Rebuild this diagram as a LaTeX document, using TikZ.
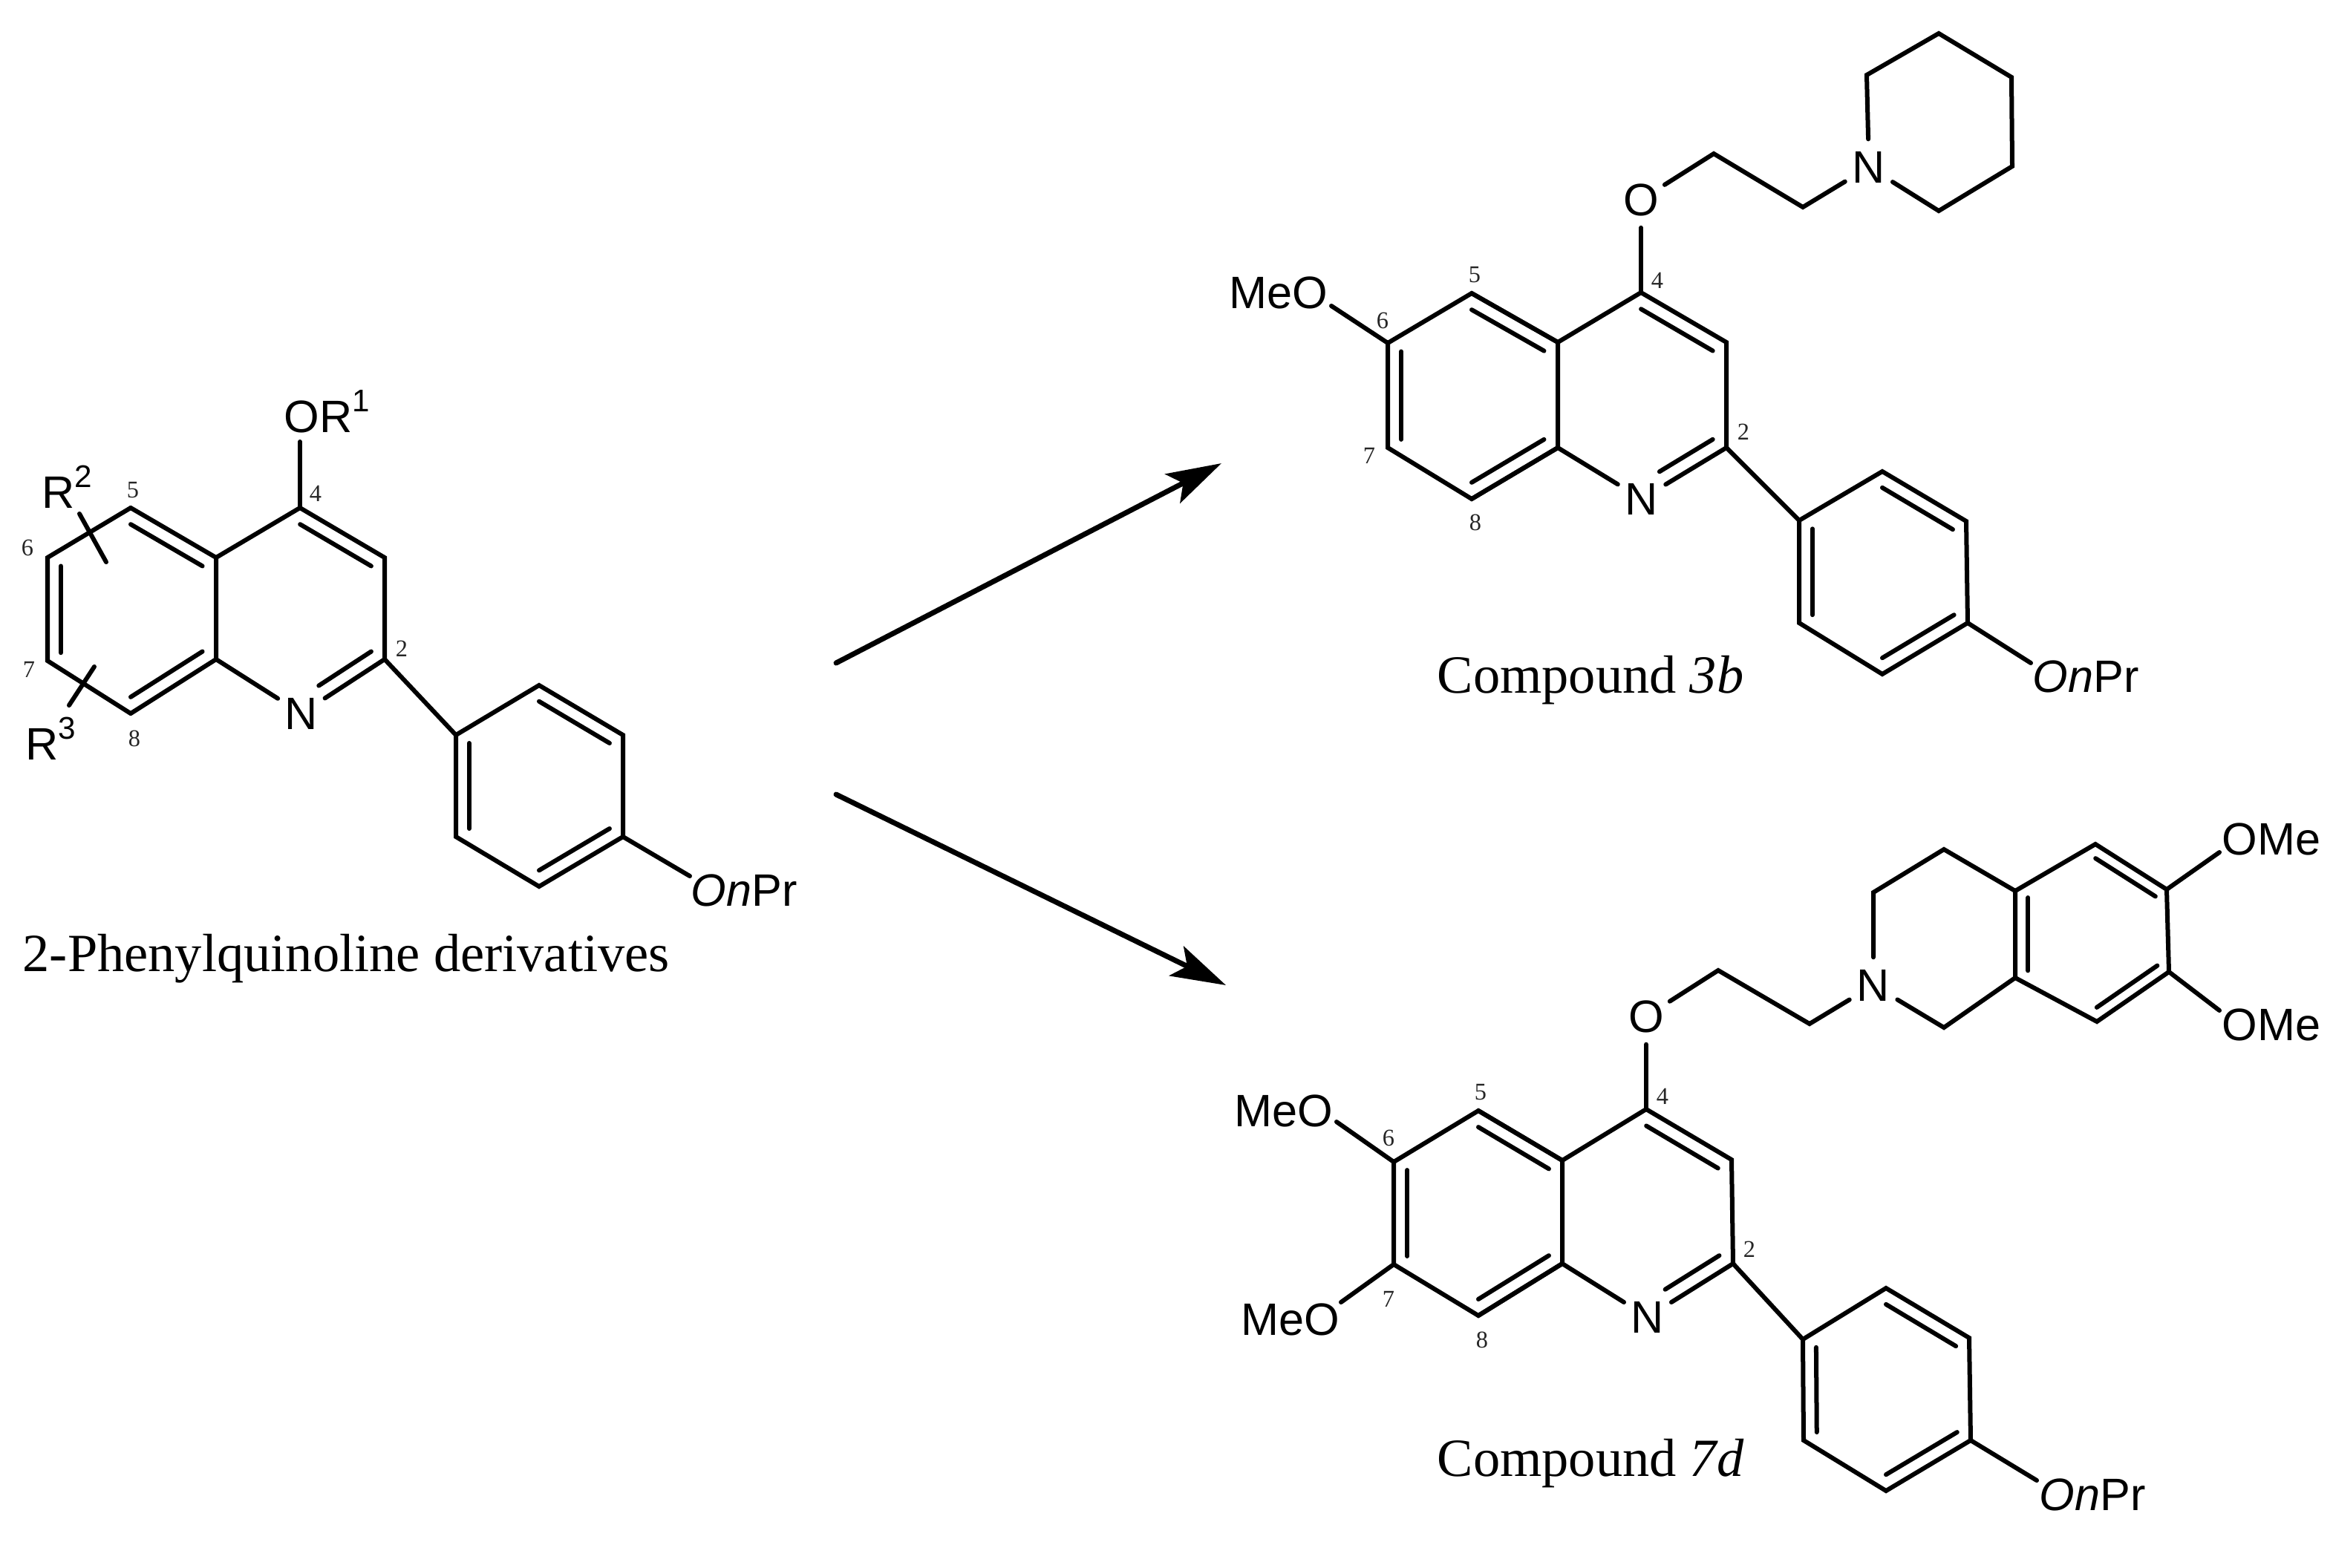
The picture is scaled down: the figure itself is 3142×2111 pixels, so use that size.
\documentclass[tikz,border=0pt]{standalone}
\usepackage{fontspec}
\setmainfont{Liberation Serif}
\newfontfamily\arialf{Liberation Sans}
\usetikzlibrary{calc,arrows.meta}
\tikzset{
  bond/.style={line width=0.06cm,line cap=round,line join=miter,black},
  rxn/.style={line width=0.07cm,line cap=round,black,-{Stealth[length=0.74cm,width=0.44cm,inset=0.16cm]}},
  atom/.style={circle,minimum size=0.74cm,inner sep=0pt,font=\arialf\fontsize{17.4}{20}\selectfont},
  chem/.style={anchor=base west,inner sep=0pt,font=\arialf\fontsize{17.4}{20}\selectfont},
  num/.style={inner sep=0pt,text=black!85,font=\fontsize{9.2}{10}\selectfont},
  caption/.style={anchor=base west,inner sep=0pt,font=\fontsize{20.6}{24}\selectfont}
}
\newcommand{\supr}[1]{\raisebox{0.28cm}{\fontsize{12}{14}\selectfont #1}}
\newcommand{\dbl}[3]{\draw[bond] ($(#1)!0.16!(#3)$) -- ($(#2)!0.16!(#3)$);}
% quinoline skeleton: coordinates #1c2..#1c8a and node #1N
\newcommand{\quinbonds}[1]{%
  \coordinate (#1cA) at ($(#1c5)!.5!(#1c8)$);
  \coordinate (#1cB) at ($(#1c4)!.5!(#1N.center)$);
  \draw[bond] (#1N) -- (#1c8a) -- (#1c4a) -- (#1c4) -- (#1c3) -- (#1c2) -- (#1N);
  \draw[bond] (#1c4a) -- (#1c5);
  \draw[bond] (#1c8a) -- (#1c8);
  \dbl{#1c4}{#1c3}{#1cB}
  \dbl{#1c4a}{#1c5}{#1cA}
  \dbl{#1c8a}{#1c8}{#1cA}
  \dbl{#1c6}{#1c7}{#1cA}
  \draw[bond,shorten >=0.28cm] ($(#1c2)!0.16!(#1cB)$) -- ($(#1N.center)!0.16!(#1cB)$);
}
% para-substituted phenyl: coordinates #1p1..#1p6
\newcommand{\phbonds}[1]{%
  \coordinate (#1pc) at ($(#1p2)!.5!(#1p5)$);
  \draw[bond] (#1p1) -- (#1p2) -- (#1p3) -- (#1p4) -- (#1p5) -- (#1p6) -- cycle;
  \draw[bond] (#1c2) -- (#1p1);
  \dbl{#1p1}{#1p6}{#1pc}
  \dbl{#1p2}{#1p3}{#1pc}
  \dbl{#1p4}{#1p5}{#1pc}
  \draw[bond] (#1p4) -- (#1oe);
}
\begin{document}
\begin{tikzpicture}[x=0.01cm,y=-0.01cm]
\path[fill=white] (0,0) rectangle (3142,2111);
\useasboundingbox (0,0) rectangle (3142,2111);

%% ---------- left: 2-phenylquinoline ----------
\coordinate (ac4) at (404,684);  \coordinate (ac3) at (518,751);
\coordinate (ac2) at (518,888);  \node[atom] (aN) at (406,961) {N};
\coordinate (ac8a) at (291,888); \coordinate (ac4a) at (291,751);
\coordinate (ac5) at (176,684);  \coordinate (ac6) at (64,751);
\coordinate (ac7) at (64,890);   \coordinate (ac8) at (176,961);
\coordinate (ap1) at (614,990);  \coordinate (ap2) at (726,923);
\coordinate (ap3) at (839,990);  \coordinate (ap4) at (839,1127);
\coordinate (ap5) at (726,1194); \coordinate (ap6) at (614,1127);
\coordinate (aoe) at (929,1180);
\coordinate (aot) at (404,595);
\coordinate (ar2a) at (107,692); \coordinate (ar2b) at (143,757);
\coordinate (ar3a) at (127,898); \coordinate (ar3b) at (93,950);
\quinbonds{a}
\phbonds{a}
\draw[bond] (ac5) -- (ac6) -- (ac7) -- (ac8);
\draw[bond] (ac4) -- (aot);
\draw[bond] (ar2a) -- (ar2b);
\draw[bond] (ar3a) -- (ar3b);
\node[chem] (aor) at (382,582) {OR\supr{1}};
\node[chem] (ar2) at (56,684) {R\supr{2}};
\node[chem] (ar3) at (34,1023) {R\supr{3}};
\node[chem] (aonpr) at (930,1220) {\textit{On}Pr};
\node[num] (an5) at (179,660) {5};
\node[num] (an4) at (425,665) {4};
\node[num] (an6) at (37,738) {6};
\node[num] (an7) at (39,902) {7};
\node[num] (an8) at (181,995) {8};
\node[num] (an2) at (541,874) {2};
\node[caption] (acap) at (30,1308) {2-Phenylquinoline derivatives};

%% ---------- arrows ----------
\coordinate (s1) at (1126,893); \coordinate (t1) at (1645,624);
\coordinate (s2) at (1126,1070); \coordinate (t2) at (1651,1327);
\draw[rxn] (s1) -- (t1);
\draw[rxn] (s2) -- (t2);

%% ---------- compound 3b ----------
\coordinate (bc4) at (2210,394);  \coordinate (bc3) at (2325,461);
\coordinate (bc2) at (2325,603);  \node[atom] (bN) at (2211,672) {N};
\coordinate (bc8a) at (2098,603); \coordinate (bc4a) at (2098,461);
\coordinate (bc5) at (1982,395);  \coordinate (bc6) at (1869,462);
\coordinate (bc7) at (1869,603);  \coordinate (bc8) at (1982,672);
\coordinate (bp1) at (2423,701);  \coordinate (bp2) at (2535,635);
\coordinate (bp3) at (2648,702);  \coordinate (bp4) at (2650,839);
\coordinate (bp5) at (2535,908);  \coordinate (bp6) at (2423,839);
\coordinate (boe) at (2735,893);
\coordinate (bme) at (1793,412);
\node[atom] (bO) at (2210,269) {O};
\coordinate (bx1) at (2308,207);  \coordinate (bx2) at (2428,279);
\node[atom] (bN2) at (2517,225) {N};
\coordinate (bq1) at (2514,101);  \coordinate (bq2) at (2611,45);
\coordinate (bq3) at (2709,104);  \coordinate (bq4) at (2710,224);
\coordinate (bq5) at (2611,284);
\quinbonds{b}
\phbonds{b}
\draw[bond] (bc4a) -- (bc5) -- (bc6) -- (bc7) -- (bc8) -- (bc8a);
\draw[bond] (bc6) -- (bme);
\draw[bond] (bc4) -- (bO);
\draw[bond] (bO) -- (bx1) -- (bx2) -- (bN2);
\draw[bond] (bN2) -- (bq1) -- (bq2) -- (bq3) -- (bq4) -- (bq5) -- (bN2);
\node[chem] (bmeo) at (1655,415) {MeO};
\node[chem] (bonpr) at (2737,932) {\textit{On}Pr};
\node[num] (bn5) at (1986,370) {5};
\node[num] (bn4) at (2232,378) {4};
\node[num] (bn6) at (1862,432) {6};
\node[num] (bn7) at (1844,614) {7};
\node[num] (bn8) at (1987,704) {8};
\node[num] (bn2) at (2348,582) {2};
\node[caption] (bcap) at (1935,933) {Compound \textit{3b}};

%% ---------- compound 7d ----------
\coordinate (cc4) at (2217,1494);  \coordinate (cc3) at (2332,1562);
\coordinate (cc2) at (2334,1702);  \node[atom] (cN) at (2219,1774) {N};
\coordinate (cc8a) at (2104,1702); \coordinate (cc4a) at (2104,1563);
\coordinate (cc5) at (1991,1496);  \coordinate (cc6) at (1877,1565);
\coordinate (cc7) at (1877,1703);  \coordinate (cc8) at (1991,1772);
\coordinate (cp1) at (2428,1804);  \coordinate (cp2) at (2540,1735);
\coordinate (cp3) at (2652,1802);  \coordinate (cp4) at (2654,1940);
\coordinate (cp5) at (2540,2008);  \coordinate (cp6) at (2429,1940);
\coordinate (coe) at (2743,1994);
\coordinate (cme1) at (1800,1511); \coordinate (cme2) at (1806,1754);
\node[atom] (cO) at (2217,1369) {O};
\coordinate (cx1) at (2314,1307);  \coordinate (cx2) at (2437,1379);
\node[atom] (cN2) at (2523,1327) {N};
\coordinate (cq1) at (2523,1202);  \coordinate (cq2) at (2618,1144);
\coordinate (cq3) at (2714,1200);  \coordinate (cq4) at (2714,1317);
\coordinate (cq5) at (2618,1384);
\coordinate (cr1) at (2822,1137);  \coordinate (cr2) at (2918,1198);
\coordinate (cr3) at (2921,1309);  \coordinate (cr4) at (2824,1376);
\coordinate (ce1) at (2989,1148);  \coordinate (ce2) at (2989,1361);
\coordinate (crc) at ($(cr1)!.5!(cr4)$);
\quinbonds{c}
\phbonds{c}
\draw[bond] (cc4a) -- (cc5) -- (cc6) -- (cc7) -- (cc8) -- (cc8a);
\draw[bond] (cc6) -- (cme1);
\draw[bond] (cc7) -- (cme2);
\draw[bond] (cc4) -- (cO);
\draw[bond] (cO) -- (cx1) -- (cx2) -- (cN2);
\draw[bond] (cN2) -- (cq1) -- (cq2) -- (cq3) -- (cq4) -- (cq5) -- (cN2);
\draw[bond] (cq3) -- (cr1) -- (cr2) -- (cr3) -- (cr4) -- (cq4);
\draw[bond] (cr2) -- (ce1);
\draw[bond] (cr3) -- (ce2);
\dbl{cq3}{cq4}{crc}
\dbl{cr1}{cr2}{crc}
\dbl{cr3}{cr4}{crc}
\node[chem] (cmeo1) at (1662,1517) {MeO};
\node[chem] (cmeo2) at (1671,1798) {MeO};
\node[chem] (come1) at (2992,1151) {OMe};
\node[chem] (come2) at (2992,1401) {OMe};
\node[chem] (conpr) at (2746,2034) {\textit{On}Pr};
\node[num] (cn5) at (1994,1471) {5};
\node[num] (cn4) at (2239,1477) {4};
\node[num] (cn6) at (1870,1533) {6};
\node[num] (cn7) at (1870,1750) {7};
\node[num] (cn8) at (1996,1805) {8};
\node[num] (cn2) at (2356,1683) {2};
\node[caption] (ccap) at (1935,1988) {Compound \textit{7d}};
\end{tikzpicture}
\end{document}
